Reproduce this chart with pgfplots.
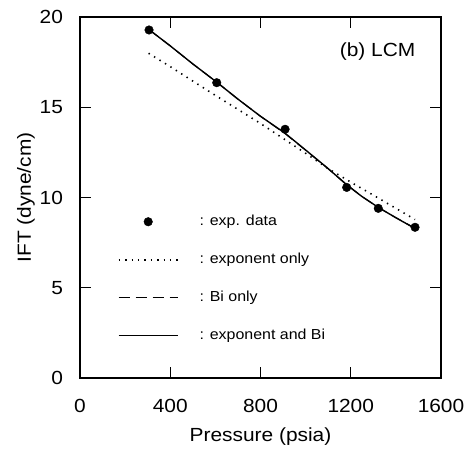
\documentclass[border=0pt]{standalone}
\usepackage{fontspec}
\setmainfont{Liberation Sans}[FakeStretch=1.1]
\usepackage{pgfplots}
\pgfplotsset{compat=1.18}

\begin{document}
\fontsize{19}{22}\selectfont
\begin{tikzpicture}
\begin{axis}[
    scale only axis,
    width=361pt, height=361pt,
    xmin=0, xmax=1600, ymin=0, ymax=20,
    xtick={0,400,800,1200,1600},
    ytick={0,5,10,15,20},
    tick align=inside,
    major tick length=11pt,
    axis line style={line width=1.1pt},
    every tick/.style={black, line width=1.1pt},
    /pgf/number format/assume math mode=true,
    /pgf/number format/1000 sep={},
    tick label style={font=\fontsize{19}{22}\selectfont},
    xticklabel style={yshift=-14.5pt},
    yticklabel style={xshift=-10.5pt},
    label style={font=\fontsize{19}{22}\selectfont},
    xlabel={Pressure (psia)},
    ylabel={IFT (dyne/cm)},
    every axis x label/.style={at={(axis description cs:0.5,-0.119)}, anchor=north},
    every axis y label/.style={at={(axis description cs:-0.107,0.5)}, rotate=90, anchor=south},
    legend style={
        at={(rel axis cs:0.105,0.455)}, anchor=north west,
        draw=none, fill=none, inner sep=0pt, outer sep=0pt,
        row sep=22pt,
        font=\fontsize{14.5}{17}\selectfont,
        nodes={text height=11.5pt, text depth=4.5pt, inner sep=0pt},
        cells={anchor=west},
    },
    legend image code/.code={
        \draw[#1] (0pt,0pt) -- (59pt,0pt);
        \path (80pt,0pt);
    },
]

% exp. data
\addplot[only marks, mark=*, mark size=4.3pt, black,
    legend image code/.code={
        \draw[mark repeat=2, mark phase=2, ##1] plot coordinates {(0pt,0pt) (29.5pt,0pt) (59pt,0pt)};
        \path (80pt,0pt);
    }] coordinates {
    (306,19.28) (606,16.36) (909,13.78) (1182,10.56) (1322,9.40) (1485,8.35)
};
\addlegendentry{: exp. data}

% exponent only
\addplot[black, line width=1.6pt, dash pattern=on 1.4pt off 5pt] coordinates {
    (304,17.99) (400,17.25) (500,16.45) (607,15.60) (700,14.88) (800,14.10)
    (909,13.20) (1000,12.45) (1100,11.60) (1200,10.85) (1300,10.13)
    (1400,9.40) (1485,8.78)
};
\addlegendentry{: exponent only}

% Bi only
\addplot[black, line width=1.1pt, dash pattern=on 11pt off 6pt] coordinates {
    (306,19.30) (400,18.40) (500,17.40) (607,16.38) (700,15.45) (800,14.50)
    (909,13.54) (1000,12.62) (1100,11.59) (1182,10.72) (1250,10.05)
    (1322,9.45) (1400,8.88) (1485,8.30)
};
\addlegendentry{: Bi only}

% exponent and Bi
\addplot[black, line width=1.4pt] coordinates {
    (306,19.30) (400,18.40) (500,17.40) (607,16.38) (700,15.45) (800,14.50)
    (909,13.56) (1000,12.63) (1100,11.60) (1182,10.70) (1250,10.05)
    (1322,9.45) (1400,8.88) (1485,8.28)
};
\addlegendentry{: exponent and Bi}

\node[font=\fontsize{19}{22}\selectfont] at (axis cs:1319,18.08) {(b) LCM};

\coordinate (bl) at (rel axis cs:0,0);
\coordinate (tr) at (rel axis cs:1,1);
\end{axis}
\pgfresetboundingbox
\path ([xshift=-80pt,yshift=-71pt]bl) rectangle ([xshift=27pt,yshift=17pt]tr);
\end{tikzpicture}
\end{document}
